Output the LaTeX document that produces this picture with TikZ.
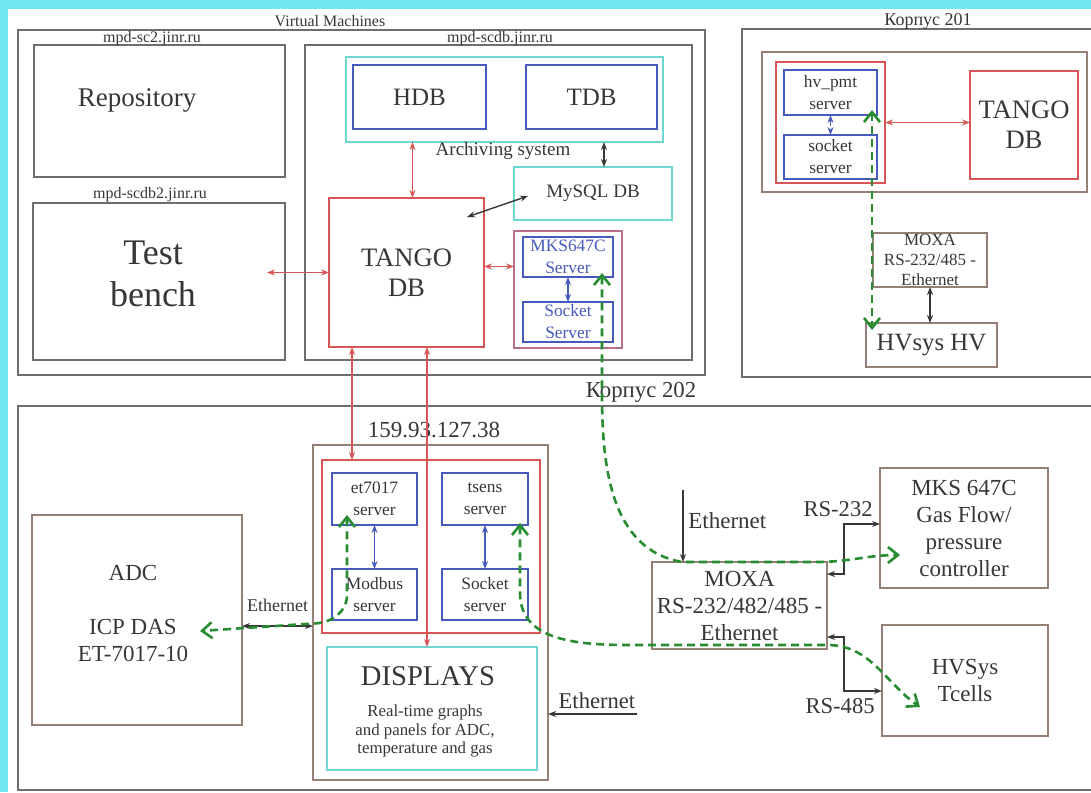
\documentclass[tikz,border=0pt]{standalone}
\usepackage{fontspec}
\setmainfont{Liberation Serif}
\usetikzlibrary{fit,arrows.meta}

\definecolor{framegray}{RGB}{110,110,110}
\definecolor{boxbrown}{RGB}{150,128,118}
\definecolor{tangored}{RGB}{215,85,85}
\definecolor{srvblue}{RGB}{70,90,190}
\definecolor{archcyan}{RGB}{110,215,210}
\definecolor{dashgreen}{RGB}{40,140,50}
\definecolor{grpmauve}{RGB}{185,110,140}
\definecolor{bgcyan}{RGB}{110,232,238}
\definecolor{txtgray}{RGB}{55,55,55}

\tikzset{
  graybox/.style={draw=framegray, line width=1.1pt, inner sep=0pt, outer sep=0pt},
  brownbox/.style={draw=boxbrown, line width=0.9pt, inner sep=0pt, outer sep=0pt},
  redbox/.style={draw=tangored, line width=0.8pt, inner sep=0pt, outer sep=0pt},
  bluebox/.style={draw=srvblue, line width=0.8pt, inner sep=0pt, outer sep=0pt},
  cyanbox/.style={draw=archcyan, line width=1.2pt, inner sep=0pt, outer sep=0pt},
  mauvebox/.style={draw=grpmauve, line width=0.9pt, inner sep=0pt, outer sep=0pt},
  hostlbl/.style={font=\fontsize{8}{9}\selectfont},
  srvtxt/.style={font=\fontsize{8.7}{11}\selectfont, align=center},
  midtxt/.style={font=\fontsize{11.5}{13.5}\selectfont, align=center},
  tangotxt/.style={font=\fontsize{13.3}{15}\selectfont, align=center},
  redlink/.style={draw=tangored, line width=0.7pt, {Stealth[length=4pt,width=3pt]}-{Stealth[length=4pt,width=3pt]}},
  bluelink/.style={draw=srvblue, line width=0.8pt, {Stealth[length=4pt,width=3pt]}-{Stealth[length=4pt,width=3pt]}},
  blacklink/.style={draw=txtgray, line width=0.7pt, {Stealth[length=4pt,width=3pt]}-{Stealth[length=4pt,width=3pt]}},
  greenlink/.style={draw=dashgreen, line width=1.3pt, dash pattern=on 4pt off 2.5pt,
    {Straight Barb[length=5pt,width=8pt]}-{Straight Barb[length=5pt,width=8pt]}},
}

\begin{document}
\begin{tikzpicture}[x=0.5pt, y=-0.5pt, every node/.style={text=txtgray}]
\useasboundingbox (0,0) rectangle (1091,792);
\fill[bgcyan] (0,0) rectangle (1091,792);
\fill[white] (8,9) rectangle (1091,792);

% Virtual machines
\node[graybox, fit={(18,30) (705,375)}] (vm) {};
\node[hostlbl] (vmlbl) at (330,21) {Virtual Machines};

\node[graybox, fit={(34,45) (285,177)}] (sctwo) {};
\node[hostlbl] (sctwolbl) at (152,39) {mpd-sc2.jinr.ru};
\node[font=\fontsize{13.5}{16}\selectfont] (repo) at (137,100) {Repository};

\node[graybox, fit={(33,203) (285,360)}] (scdbtwo) {};
\node[hostlbl] (scdbtwolbl) at (150,195) {mpd-scdb2.jinr.ru};
\node[font=\fontsize{18}{21}\selectfont, align=center] (bench) at (153,274) {Test\\bench};

\node[graybox, fit={(305,45) (692,360)}] (scdb) {};
\node[hostlbl] (scdblbl) at (500,39) {mpd-scdb.jinr.ru};
\node[cyanbox, fit={(346,57) (663,142)}] (arch) {};
\node[font=\fontsize{9.5}{11}\selectfont] (archlbl) at (503,151) {Archiving system};
\node[bluebox, fit={(353,65) (486,129)}, label={[font=\fontsize{12.5}{14}\selectfont]center:HDB}] (hdb) {};
\node[bluebox, fit={(526,65) (657,129)}, label={[font=\fontsize{12.5}{14}\selectfont]center:TDB}] (tdb) {};
\node[cyanbox, fit={(514,167) (672,220)}, label={[font=\fontsize{9.5}{11}\selectfont]center:MySQL DB}] (mysql) {};
\node[redbox, fit={(329,198) (484,347)}, label={[tangotxt]center:{TANGO\\DB}}] (tango) {};
\node[mauvebox, fit={(514,231) (622,348)}] (mksgrp) {};
\node[bluebox, fit={(523,237) (613,277)}, label={[srvtxt, text=srvblue]center:{MKS647C\\Server}}] (mkssrv) {};
\node[bluebox, fit={(523,302) (613,342)}, label={[srvtxt, text=srvblue]center:{Socket\\Server}}] (socksrv) {};

% Korpus 201
\draw[draw=framegray, line width=1.1pt] (1091,29) -| (742,377) -- (1091,377);
\node[font=\fontsize{9}{10}\selectfont] (konelbl) at (928,21) {Корпус 201};
\node[brownbox, fit={(762,52) (1087,192)}] (konein) {};
\node[redbox, fit={(776,62) (885,183)}] (hvgrp) {};
\node[bluebox, fit={(784,70) (877,115)}, label={[srvtxt]center:{hv\_pmt\\server}}] (hvpmt) {};
\node[bluebox, fit={(784,135) (877,179)}, label={[srvtxt]center:{socket\\server}}] (hvsock) {};
\node[redbox, fit={(970,71) (1078,179)}, label={[tangotxt]center:{TANGO\\DB}}] (tangotwo) {};
\node[brownbox, fit={(873,233) (987,287)}, label={[font=\fontsize{8.5}{10}\selectfont, align=center]center:{MOXA\\RS-232/485 -\\Ethernet}}] (moxaone) {};
\node[brownbox, fit={(866,323) (997,367)}, label={[font=\fontsize{12.4}{14}\selectfont]center:HVsys HV}] (hvsys) {};

% Korpus 202
\draw[draw=framegray, line width=1.1pt] (1091,406) -| (18,790) -- (1091,790);
\node[font=\fontsize{11.4}{13}\selectfont] (ktwolbl) at (641,392) {Корпус 202};
\node[font=\fontsize{11.5}{13}\selectfont] (iplbl) at (434,430) {159.93.127.38};
\node[brownbox, fit={(313,445) (548,780)}] (ipbox) {};
\node[redbox, fit={(322,460) (540,633)}] (srvgrp) {};
\node[bluebox, fit={(332,473) (417,525)}, label={[srvtxt]center:{et7017\\server}}] (et) {};
\node[bluebox, fit={(332,569) (417,620)}, label={[srvtxt]center:{Modbus\\server}}] (modbus) {};
\node[bluebox, fit={(442,473) (528,525)}, label={[srvtxt]center:{tsens\\server}}] (tsens) {};
\node[bluebox, fit={(442,569) (528,620)}, label={[srvtxt]center:{Socket\\server}}] (socktwo) {};
\node[cyanbox, fit={(327,647) (537,770)}] (disp) {};
\node[font=\fontsize{14.3}{16}\selectfont] (disptitle) at (428,676) {DISPLAYS};
\node[font=\fontsize{8.4}{9.3}\selectfont, align=center] (disptext) at (425,731) {Real-time graphs\\and panels for ADC,\\temperature and gas};

\node[brownbox, fit={(32,515) (242,725)}] (adc) {};
\node[midtxt] (adcname) at (133,573) {ADC};
\node[midtxt] (icpdas) at (133,640) {ICP DAS\\ET-7017-10};

\node[brownbox, fit={(652,562) (827,649)}, label={[midtxt]center:{MOXA\\RS-232/482/485 -\\Ethernet}}] (moxatwo) {};
\node[brownbox, fit={(880,468) (1048,588)}, label={[midtxt]center:{MKS 647C\\Gas Flow/\\pressure\\controller}}] (mks) {};
\node[brownbox, fit={(882,625) (1048,736)}, label={[midtxt]center:{HVSys\\Tcells}}] (tcells) {};

\coordinate (ethr) at (637,714);
\coordinate (ethm) at (683,490);

% links
\draw[redlink] ([xshift=-9pt]scdbtwo.east |- tango.west) -- (tango.west);
\draw[redlink] ([xshift=3pt]tango.north) -- ([xshift=3pt]tango.north |- arch.south);
\draw[blacklink] ([xshift=5.5pt]mysql.north) -- ([xshift=5.5pt]mysql.north |- arch.south);
\draw[blacklink] ([shift={(7pt,-1.25pt)}]mysql.west) -- ([shift={(-8.5pt,-9.5pt)}]tango.north east);
\draw[redlink] ([yshift=3pt]tango.east) -- ([yshift=3pt]tango.east -| mksgrp.west);
\draw[bluelink] (mkssrv.south) -- (socksrv.north);

\draw[bluelink, dashed] (hvpmt.south) -- (hvsock.north);
\draw[redlink] (hvgrp.east) -- (hvgrp.east -| tangotwo.west);
\draw[blacklink] (moxaone.south) -- (moxaone.south |- hvsys.north);

\draw[redlink] ([xshift=11.5pt]tango.south west) -- ([xshift=11.5pt]tango.south west |- srvgrp.north);
\draw[redlink] ([xshift=49pt]tango.south west) -- ([xshift=49pt]tango.south west |- disp.north);
\draw[bluelink] (et.south) -- (modbus.north);
\draw[bluelink] (tsens.south) -- (socktwo.north);

\draw[blacklink] ([yshift=-3pt]adc.east) -- node[midway, above=3.5pt, font=\fontsize{9}{10}\selectfont] {Ethernet} ([yshift=-3pt]adc.east -| ipbox.west);
\draw[draw=txtgray, line width=0.7pt, -{Stealth[length=4pt,width=3pt]}] (ethr) -- node[pos=0.45, above=-1pt, font=\fontsize{11.3}{13}\selectfont] {Ethernet} (ethr -| ipbox.east);
\draw[draw=txtgray, line width=0.7pt, -{Stealth[length=4pt,width=3pt]}] (ethm) -- node[pos=0.42, right=-1pt, font=\fontsize{11.5}{13}\selectfont] {Ethernet} (ethm |- moxatwo.north);
\draw[blacklink] ([yshift=2pt]mks.west) node[above left, font=\fontsize{11.3}{13}\selectfont] {RS-232} -- ++(-18pt,0) |- ([yshift=15.75pt]moxatwo.east);
\draw[blacklink] ([yshift=-15.75pt]moxatwo.east) -- ++(8.5pt,0) |- ([yshift=-5.25pt]tcells.west) node[below left, font=\fontsize{11.3}{13}\selectfont] {RS-485};

% green data paths
\draw[greenlink] ([shift={(-2.5pt,2.5pt)}]hvpmt.south east) -- ([shift={(-2.5pt,-3.5pt)}]hvpmt.south east |- hvsys.north);
\draw[greenlink] ([shift={(17pt,2pt)}]mkssrv.south) -- ++(0,-60pt) to[out=-90,in=170] ([xshift=15pt]moxatwo.north west) -- ([xshift=-5pt]moxatwo.north east) to[out=0,in=180] ([shift={(10pt,-13.5pt)}]mks.west);
\draw[greenlink] ([shift={(-13.75pt,5pt)}]et.south) -- ++(0,-40pt) to[out=-90,in=0] ([yshift=-5.5pt]ipbox.west) -- ([shift={(-21pt,-5.5pt)}]adc.east);
\draw[greenlink] ([shift={(-4pt,1pt)}]tsens.south east) -- ++(0,-35pt) to[out=-90,in=180] ([yshift=2pt]moxatwo.south west) -- ([yshift=2pt]moxatwo.south east) to[out=0,in=145] ([shift={(19pt,-13.25pt)}]tcells.west);
\end{tikzpicture}
\end{document}
